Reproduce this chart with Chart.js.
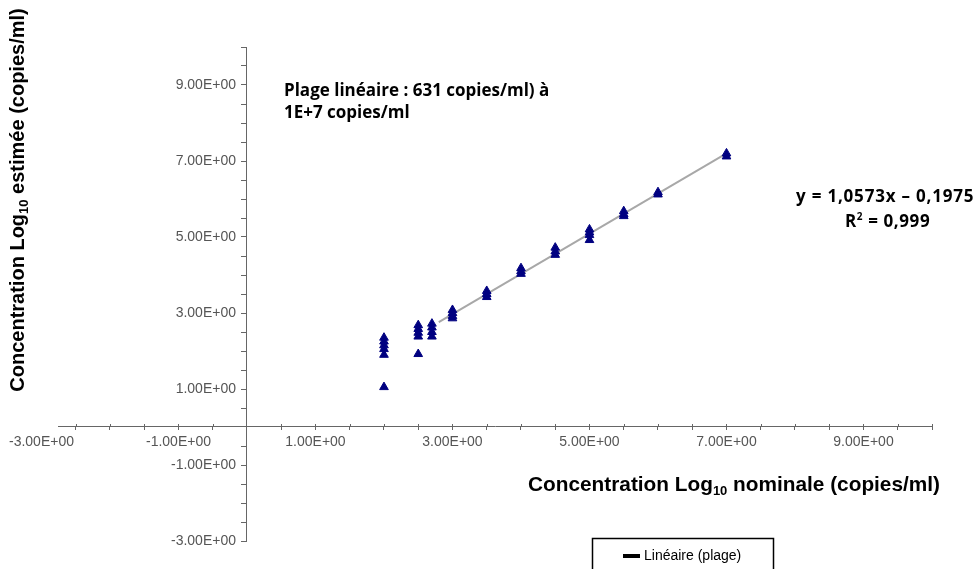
<!DOCTYPE html>
<html><head><meta charset="utf-8">
<script src="https://cdn.jsdelivr.net/npm/chart.js@4.4.0/dist/chart.umd.min.js"></script>
<style>html,body{margin:0;padding:0;background:#fff}#wrap{width:979px;height:569px;position:relative}</style>
</head><body><div id="wrap"><canvas id="c" width="979" height="569"></canvas></div>
<script>
// ---- data (log10 copies/ml) ----
const nominalLevels = [2, 2.5, 2.7, 3, 3.5, 4, 4.5, 5, 5.5, 6, 7];
const estimatedValues = [
  [2.35, 2.25, 2.15, 2.05, 1.9, 1.05],
  [2.68, 2.58, 2.48, 2.38, 1.92],
  [2.72, 2.62, 2.5, 2.38],
  [3.08, 3.0, 2.92, 2.86],
  [3.58, 3.5, 3.42],
  [4.18, 4.1, 4.03],
  [4.72, 4.62, 4.53],
  [5.2, 5.12, 5.05, 4.92],
  [5.68, 5.6, 5.55],
  [6.18, 6.12],
  [7.2, 7.12]
];
const trendX = [2.8, 7];
const trendY = [2.76, 7.2];
const xTickLabelValues = [-3, -1, 1, 3, 5, 7, 9];
const yTickLabelValues = [9, 7, 5, 3, 1, -1, -3];
const legendLabel = 'Linéaire (plage)';
const rangeText = ['Plage linéaire : 631 copies/ml) à', '1E+7 copies/ml'];
const eqText = 'y = 1,0573x \u2013 0,1975';
const r2Text = ['R', '2', ' = 0,999'];

const points = [];
nominalLevels.forEach((lv, i) => estimatedValues[i].forEach(v => points.push({x: lv, y: v})));
const trend = trendX.map((x, i) => ({x, y: trendY[i]}));

function fmt(v) { return v.toFixed(2) + 'E+00'; }

const LABEL_FONT = '14px "Liberation Sans", Arial, sans-serif';

const overlay = {
  id: 'overlay',
  afterDraw(chart) {
    const ctx = chart.ctx;
    const xs = chart.scales.x, ys = chart.scales.y;
    const axisY = ys.getPixelForValue(0);
    const axisX = xs.getPixelForValue(0);
    ctx.save();
    // upward half of x tick marks
    ctx.strokeStyle = '#666'; ctx.lineWidth = 1;
    xs.ticks.forEach(t => {
      const px = Math.round(xs.getPixelForValue(t.value)) + 0.5;
      if (t.value === 0) return;
      ctx.beginPath(); ctx.moveTo(px, axisY - 3); ctx.lineTo(px, axisY); ctx.stroke();
    });
    // tick labels
    ctx.fillStyle = '#555';
    ctx.font = LABEL_FONT;
    ctx.textAlign = 'right'; ctx.textBaseline = 'middle';
    yTickLabelValues.forEach(v => ctx.fillText(fmt(v), axisX - 11, ys.getPixelForValue(v)));
    ctx.textAlign = 'center'; ctx.textBaseline = 'top';
    xTickLabelValues.forEach(v => ctx.fillText(fmt(v), xs.getPixelForValue(v), axisY + 8));
    // rich text helper
    function rich(parts, x, y, align) {
      let w = 0;
      parts.forEach(p => { ctx.font = p.f; w += ctx.measureText(p.t).width; });
      let cx = align === 'center' ? x - w / 2 : x;
      ctx.textBaseline = 'alphabetic'; ctx.textAlign = 'left';
      parts.forEach(p => { ctx.font = p.f; ctx.fillText(p.t, cx, y + (p.dy || 0)); cx += ctx.measureText(p.t).width; });
    }
    ctx.fillStyle = '#000';
    const TBX = 'bold 20.8px "Liberation Sans", Arial, sans-serif';
    const TB = 'bold 20px "Liberation Sans", Arial, sans-serif';
    const TS = 'bold 13px "Liberation Sans", Arial, sans-serif';
    // x title
    rich([{t: 'Concentration Log', f: TBX}, {t: '10', f: TS, dy: 4}, {t: ' nominale (copies/ml)', f: TBX}], 734, 491, 'center');
    // y title
    ctx.save();
    ctx.translate(24, 200); ctx.rotate(-Math.PI / 2);
    rich([{t: 'Concentration Log', f: TB}, {t: '10', f: TS, dy: 4}, {t: ' estimée (copies/ml)', f: TB}], 0, 0, 'center');
    ctx.restore();
    // range annotation
    const AB = 'bold 17px "Open Sans", "Noto Sans", sans-serif';
    ctx.font = AB; ctx.textAlign = 'left'; ctx.textBaseline = 'middle';
    ctx.fillText(rangeText[0], 284, 91);
    ctx.fillText(rangeText[1], 284, 113);
    ctx.letterSpacing = '0.8px';
    ctx.fillText(eqText, 796, 197);
    ctx.letterSpacing = '0.6px';
    ctx.textBaseline = 'alphabetic';
    rich([{t: r2Text[0], f: AB}, {t: r2Text[1], f: 'bold 10px "Open Sans", sans-serif', dy: -7}, {t: r2Text[2], f: AB}], 845, 227, 'left');
    ctx.letterSpacing = '0px';
    // legend box
    ctx.strokeStyle = '#000'; ctx.lineWidth = 1.5;
    ctx.strokeRect(592.5, 538.5, 181, 60);
    ctx.lineWidth = 4; ctx.beginPath(); ctx.moveTo(623, 556); ctx.lineTo(640, 556); ctx.stroke();
    ctx.font = '14px "Liberation Sans", Arial, sans-serif'; ctx.textBaseline = 'middle';
    ctx.fillText(legendLabel, 644, 556);
    ctx.restore();
  }
};

new Chart(document.getElementById('c'), {
  type: 'scatter',
  data: {
    datasets: [
      {label: 'Données', data: points, pointStyle: 'triangle', pointRadius: 5, pointHoverRadius: 5,
       backgroundColor: '#000080', borderColor: '#000080', borderWidth: 1, order: 1},
      {label: legendLabel, data: trend, showLine: true, borderColor: '#a8a8a8', borderWidth: 2,
       pointRadius: 0, order: 2}
    ]
  },
  options: {
    responsive: false, animation: false, devicePixelRatio: 1,
    layout: {padding: {left: 58.6, right: 47, top: 47, bottom: 28}},
    plugins: {legend: {display: false}, tooltip: {enabled: false}},
    clip: false,
    scales: {
      x: {
        type: 'linear', min: -2.75, max: 10, position: {y: 0},
        afterFit(s) { s.height = 0; },
        ticks: {stepSize: 0.5, includeBounds: false, autoSkip: false, maxRotation: 0, minRotation: 0,
                callback: () => ''},
        grid: {drawOnChartArea: false, drawTicks: true, tickLength: 3, color: '#666'},
        border: {color: '#666', width: 1}
      },
      y: {
        type: 'linear', min: -3, max: 10, position: {x: 0},
        afterFit(s) { s.width = 0; },
        ticks: {stepSize: 0.5, autoSkip: false, callback: () => ''},
        grid: {drawOnChartArea: false, drawTicks: true, tickLength: 5, color: '#666'},
        border: {color: '#666', width: 1}
      }
    }
  },
  plugins: [overlay]
});
</script>
</body></html>
